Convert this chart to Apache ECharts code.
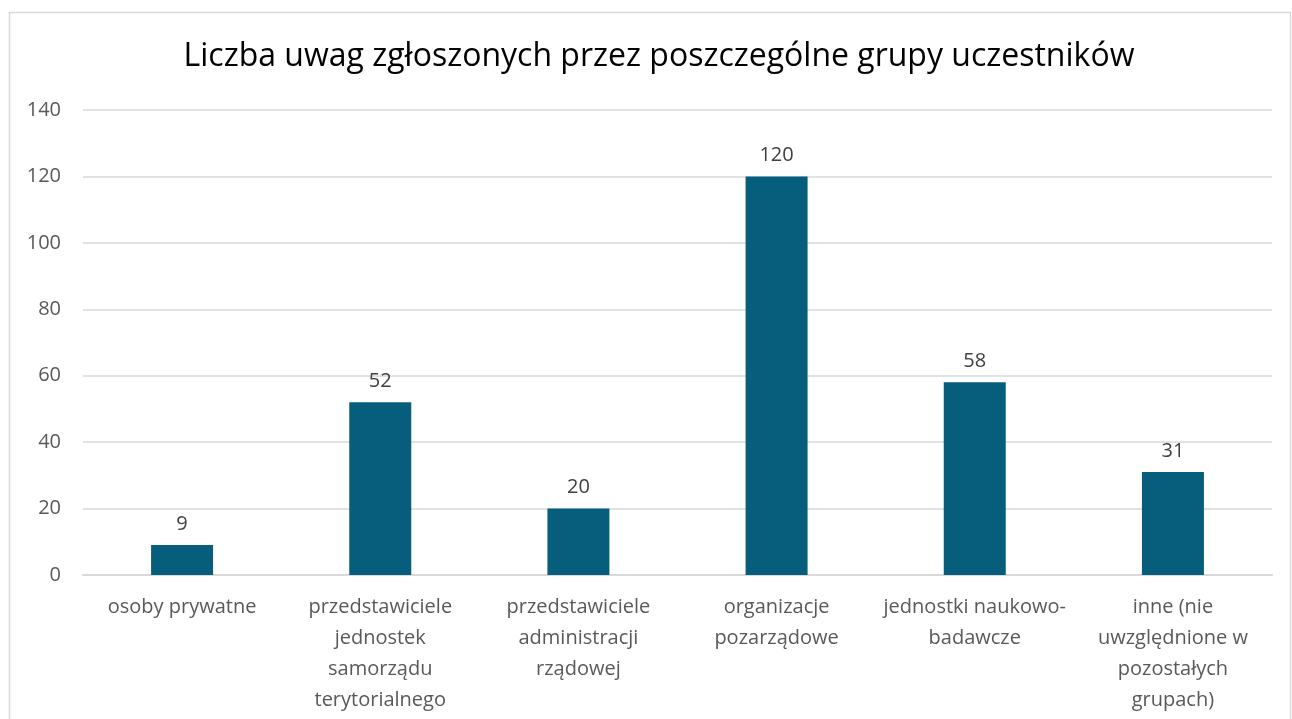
<!DOCTYPE html>
<html>
<head>
<meta charset="utf-8">
<script src="https://cdn.jsdelivr.net/npm/echarts@6/dist/echarts.min.js"></script>
<style>
  html, body { margin: 0; padding: 0; background: #fff; }
  #data-chart { width: 1292px; height: 719px; }
</style>
</head>
<body>
<div id="data-chart"></div>
<script>
  const chart = echarts.init(document.getElementById('data-chart'))

  const categories = [
    'osoby prywatne',
    'przedstawiciele\njednostek\nsamorządu\nterytorialnego',
    'przedstawiciele\nadministracji\nrządowej',
    'organizacje\npozarządowe',
    'jednostki naukowo-\nbadawcze',
    'inne (nie\nuwzględnione w\npozostałych\ngrupach)'
  ]
  const values = [9, 52, 20, 120, 58, 31]

  const font = '"Open Sans", Lato, sans-serif'

  const option = {
    animation: false,
    textStyle: { fontFamily: font },
    graphic: [
      {
        type: 'rect',
        left: 7,
        top: 10,
        shape: { width: 1281, height: 730 },
        style: { fill: 'none', stroke: '#d9d9d9', lineWidth: 1.5 },
        z: -1
      }
    ],
    title: {
      text: 'Liczba uwag zgłoszonych przez poszczególne grupy uczestników',
      left: 654,
      textAlign: 'center',
      top: 36,
      textStyle: {
        fontSize: 32,
        fontWeight: 'normal',
        color: '#000',
        fontFamily: font
      }
    },
    grid: {
      left: 83,
      right: 20,
      top: 110,
      bottom: 144,
      containLabel: false
    },
    xAxis: {
      type: 'category',
      data: categories,
      axisLine: { show: true, lineStyle: { color: '#d9d9d9', width: 2 } },
      axisTick: { show: false },
      axisLabel: {
        interval: 0,
        margin: 17,
        fontSize: 20,
        lineHeight: 31,
        color: '#595959',
        fontFamily: font
      }
    },
    yAxis: {
      type: 'value',
      min: 0,
      max: 140,
      interval: 20,
      axisLine: { show: false },
      axisTick: { show: false },
      splitLine: { lineStyle: { color: '#d9d9d9', width: 1.5 } },
      axisLabel: {
        margin: 22,
        fontSize: 20,
        color: '#595959',
        fontFamily: font
      }
    },
    series: [
      {
        type: 'bar',
        data: values,
        barWidth: 62,
        itemStyle: { color: '#065e7c' },
        label: {
          show: true,
          position: 'top',
          distance: 11,
          fontSize: 20,
          color: '#404040',
          fontFamily: font
        }
      }
    ]
  }
  chart.setOption(option)
</script>
</body>
</html>
